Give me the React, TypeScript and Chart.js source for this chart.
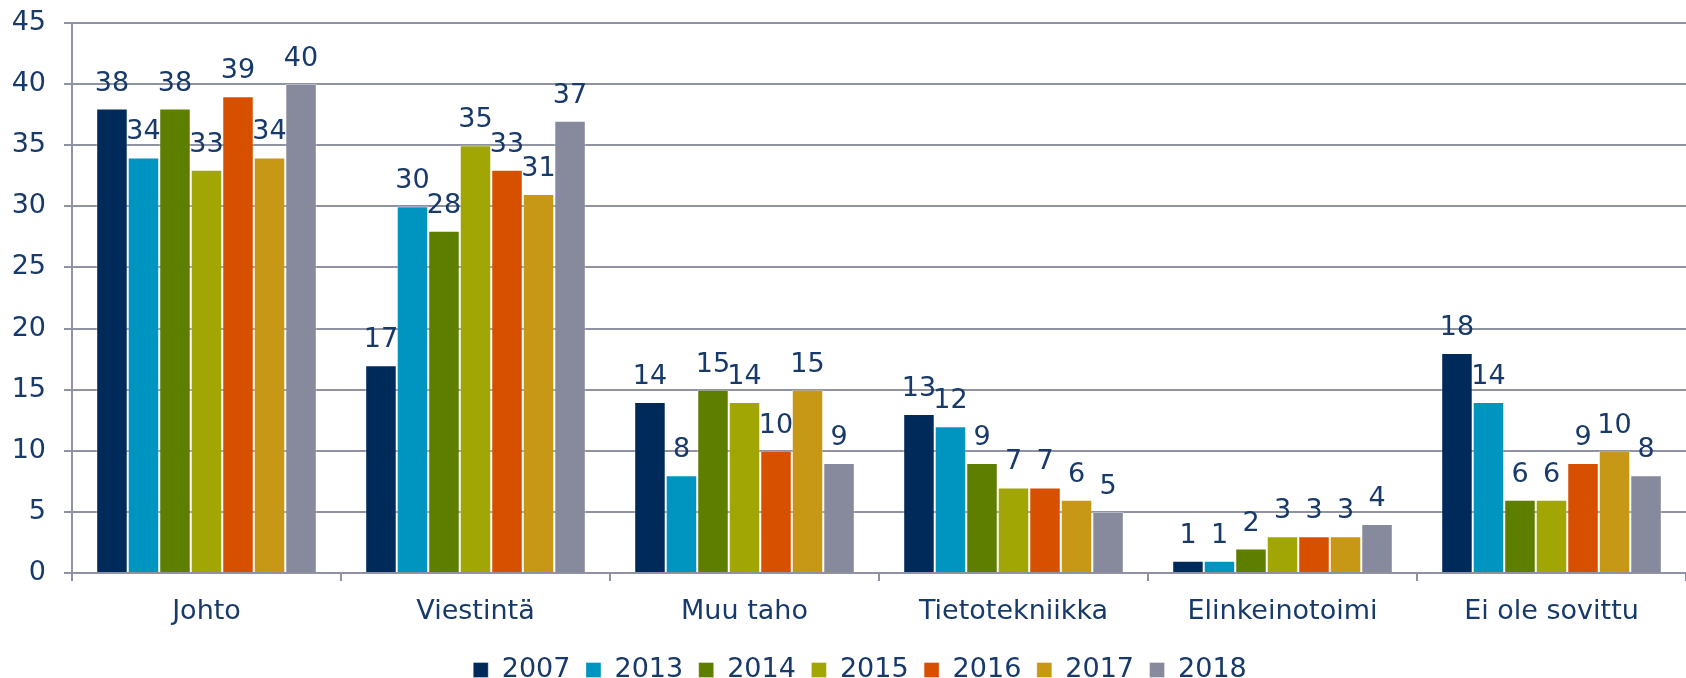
import React, { useEffect, useRef } from "react";
import { Chart, registerables } from "chart.js";

Chart.register(...registerables);

const categories = ["Johto", "Viestintä", "Muu taho", "Tietotekniikka", "Elinkeinotoimi", "Ei ole sovittu"];
const years = ["2007", "2013", "2014", "2015", "2016", "2017", "2018"];
const values2007 = [38, 17, 14, 13, 1, 18];
const values2013 = [34, 30, 8, 12, 1, 14];
const values2014 = [38, 28, 15, 9, 2, 6];
const values2015 = [33, 35, 14, 7, 3, 6];
const values2016 = [39, 33, 10, 7, 3, 9];
const values2017 = [34, 31, 15, 6, 3, 10];
const values2018 = [40, 37, 9, 5, 4, 8];
const seriesValues = [values2007, values2013, values2014, values2015, values2016, values2017, values2018];
const colors = ["#002A5A", "#0094C1", "#5E7E00", "#A1A605", "#D65000", "#C69815", "#878A9C"];
const yTicks = [0, 5, 10, 15, 20, 25, 30, 35, 40, 45];

const TEXT = "#173A6A";
const GRID = "#8E92A3";
const FONT = '"DejaVu Sans", Verdana, sans-serif';
const FS = 27;

const valueLabels = {
  id: "valueLabels",
  afterDatasetsDraw(chart: any) {
    const ctx = chart.ctx;
    ctx.save();
    ctx.font = `${FS}px ${FONT}`;
    ctx.fillStyle = TEXT;
    ctx.textAlign = "center";
    ctx.textBaseline = "alphabetic";
    chart.data.datasets.forEach((ds: any, i: number) => {
      const meta = chart.getDatasetMeta(i);
      meta.data.forEach((bar: any, j: number) => {
        ctx.fillText(String(ds.data[j]), bar.x, bar.y - 18);
      });
    });
    ctx.restore();
  },
};

const legendShift = {
  id: "legendShift",
  afterLayout(chart: any) {
    if (chart.legend) {
      chart.legend.left += 17;
      chart.legend.right += 17;
      chart.legend.top += 4;
      chart.legend.bottom += 4;
    }
  },
};

export default function App() {
  const ref = useRef<HTMLCanvasElement | null>(null);

  useEffect(() => {
    if (!ref.current) return;
    const chart = new Chart(ref.current, {
      type: "bar",
      data: {
        labels: categories,
        datasets: years.map((y, i) => ({
          label: y,
          data: seriesValues[i],
          backgroundColor: colors[i],
          borderColor: "rgba(255,255,255,0.35)",
          borderWidth: 1,
          borderSkipped: "bottom",
          barPercentage: 1,
          categoryPercentage: 0.82,
        })),
      },
      options: {
        animation: false,
        responsive: false,
        maintainAspectRatio: false,
        layout: { padding: { top: 23, left: 0, right: 0, bottom: 0 } },
        plugins: {
          legend: {
            position: "bottom",
            maxHeight: 41,
            labels: {
              boxWidth: 15,
              boxHeight: 15,
              padding: 15.5,
              color: TEXT,
              font: { family: FONT, size: FS },
            },
          },
          tooltip: { enabled: false },
        },
        scales: {
          x: {
            grid: {
              display: true,
              drawOnChartArea: false,
              drawTicks: true,
              tickLength: 8,
              color: GRID,
              lineWidth: 2,
            },
            border: { display: true, color: GRID, width: 2 },
            ticks: { color: TEXT, font: { family: FONT, size: FS }, padding: 15 },
            afterFit: (scale: any) => {
              scale.height = 64;
              scale.paddingLeft = 0;
              scale.paddingRight = 0;
            },
          },
          y: {
            min: 0,
            max: 45,
            afterBuildTicks: (scale: any) => {
              scale.ticks = yTicks.map((v) => ({ value: v }));
            },
            grid: { color: GRID, lineWidth: 2, tickLength: 8 },
            border: { display: true, color: GRID, width: 2 },
            ticks: { color: TEXT, font: { family: FONT, size: FS }, padding: 18 },
            afterFit: (scale: any) => {
              scale.width = 72;
              scale.paddingTop = 0;
              scale.paddingBottom = 0;
            },
          },
        },
      },
      plugins: [valueLabels, legendShift],
    });
    return () => chart.destroy();
  }, []);

  return (
    <div style={{ position: "absolute", left: 0, top: 0, width: 1686, height: 678 }}>
      <canvas ref={ref} width={1686} height={678} style={{ display: "block" }} />
    </div>
  );
}
